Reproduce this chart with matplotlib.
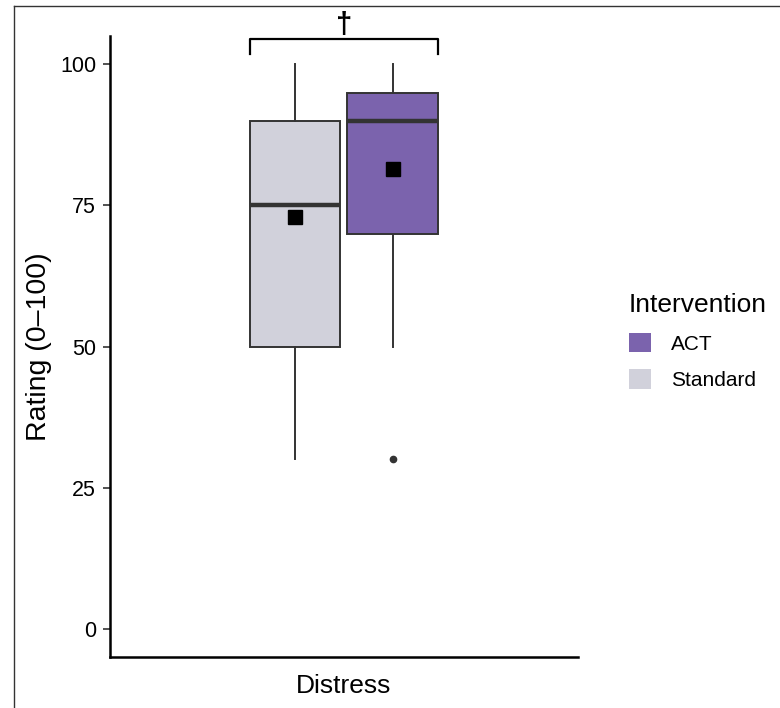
import matplotlib
matplotlib.use("Agg")
import matplotlib.pyplot as plt
from matplotlib.patches import Patch
from matplotlib.lines import Line2D

plt.rcParams['font.family'] = ['Liberation Sans', 'DejaVu Sans']

# summary stats (0-100 scale)
groups = ["Standard", "ACT"]
whisk_lo = [30, 50]
q1 = [50, 70]
medians = [75, 90]
q3 = [90, 95]
whisk_hi = [100, 100]
means = [73.0, 81.4]
outliers = [[], [30]]
colors = {"ACT": "#7B63AD", "Standard": "#D1D1DB"}
legend_order = ["ACT", "Standard"]
category = "Distress"
sig_label = "\u2020"

def main():
	fig = plt.figure(figsize=(7.8, 7.08), dpi=100)
	ax = fig.add_axes([0.141, 0.072, 0.6, 0.877])

	positions = [1 - 0.125, 1 + 0.125]
	stats = []
	for i, g in enumerate(groups):
		stats.append({
			"label": g, "whislo": whisk_lo[i], "q1": q1[i], "med": medians[i],
			"q3": q3[i], "whishi": whisk_hi[i], "fliers": outliers[i],
		})

	edge = "#333333"
	bp = ax.bxp(stats, positions=positions, widths=0.232, patch_artist=True,
		showcaps=False, manage_ticks=False,
		boxprops=dict(edgecolor=edge, linewidth=1.4),
		whiskerprops=dict(color=edge, linewidth=1.4),
		medianprops=dict(color=edge, linewidth=3.2, solid_capstyle='butt'),
		flierprops=dict(marker='o', markerfacecolor=edge, markeredgecolor=edge, markersize=4.5))
	for patch, g in zip(bp['boxes'], groups):
		patch.set_facecolor(colors[g])

	ax.plot(positions, means, linestyle='none', marker='s', color='black', markersize=10, zorder=5)

	# significance bracket
	left = positions[0] - 0.116
	right = positions[1] + 0.116
	ax.plot([left, left, right, right], [101.9, 104.4, 104.4, 101.9], color='black', linewidth=1.6, clip_on=False)
	ax.text(1, 107.0, sig_label, ha='center', va='center', fontsize=21, fontweight='bold', clip_on=False)

	ax.set_xlim(0.4, 1.6)
	ax.set_ylim(-5, 105)
	ax.set_yticks([0, 25, 50, 75, 100])
	ax.set_xticks([1])
	ax.set_xticklabels([category], fontsize=19)
	ax.tick_params(axis='x', length=0, pad=12)
	ax.tick_params(axis='y', length=5, width=1.2, color='#333333', labelsize=15.5, pad=5)
	ax.set_ylabel("Rating (0\u2013100)", fontsize=20.5, labelpad=6)
	for s in ['top', 'right']:
		ax.spines[s].set_visible(False)
	for s in ['left', 'bottom']:
		ax.spines[s].set_linewidth(1.8)

	handles = [Patch(facecolor=colors[g], edgecolor='none', label=g) for g in legend_order]
	fig.legend(handles=handles, loc='upper left', bbox_to_anchor=(0.782, 0.612), frameon=False,
		title="Intervention", title_fontsize=19, fontsize=15, handlelength=1.05, handleheight=1.05,
		handletextpad=1.0, labelspacing=0.75, alignment='left')

	# frame edge of the original screenshot
	fig.add_artist(Line2D([14 / 780, 1], [1 - 6 / 708, 1 - 6 / 708], transform=fig.transFigure, color='#333333', linewidth=1))
	fig.add_artist(Line2D([14 / 780, 14 / 780], [0, 1 - 6 / 708], transform=fig.transFigure, color='#333333', linewidth=1))

	fig.savefig("out.png", dpi=100)

if __name__ == "__main__":
	main()
